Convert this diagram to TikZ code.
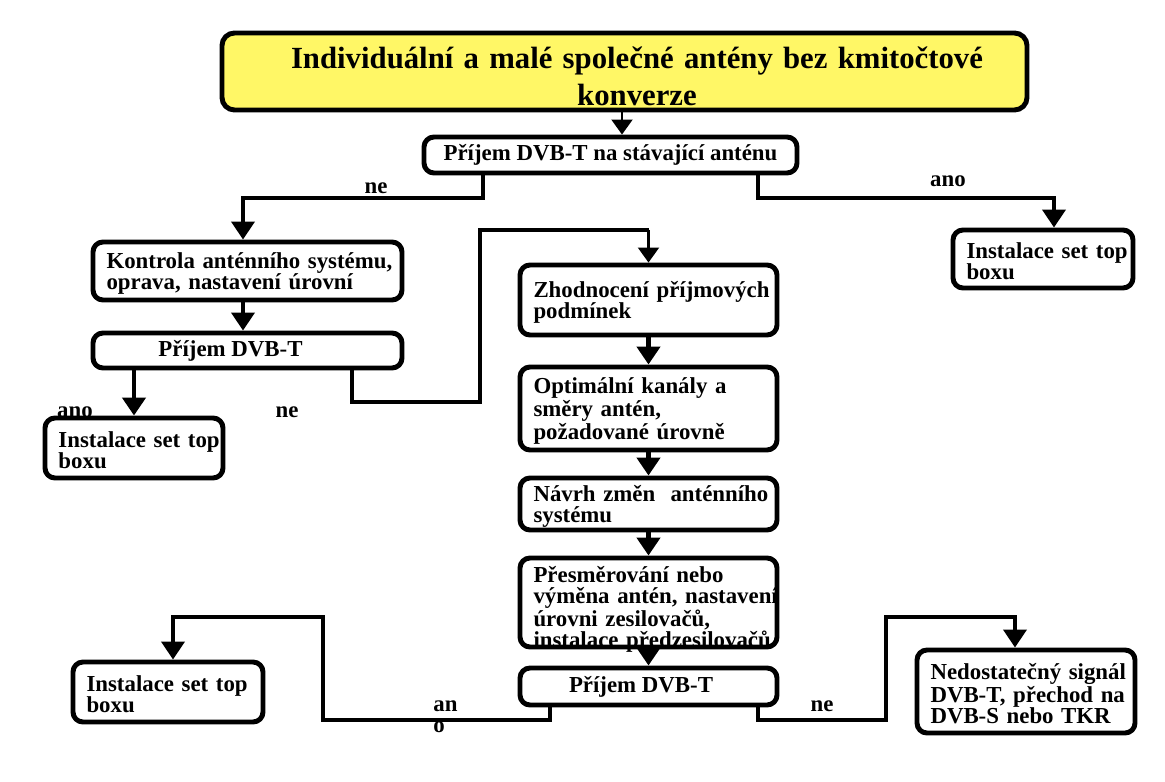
\documentclass[tikz,border=0pt]{standalone}
\usepackage{fontspec}
\setmainfont{Liberation Serif}
\usetikzlibrary{arrows.meta}

\newcommand{\boxfont}{\bfseries\fontsize{13}{11.9}\selectfont}
\newcommand{\headfont}{\bfseries\fontsize{17.5}{21}\selectfont}

\tikzset{
    procbox/.style={draw=black, line width=2.8pt, rounded corners=0.2cm, fill=white,
        align=left, text width=#1, text height=12pt, inner xsep=0.27cm, inner ysep=0pt, font=\boxfont,
        execute at begin node={\rightskip=0pt plus 1fil minus 3cm}},
    recvbox/.style={draw=black, line width=2.8pt, rounded corners=0.2cm, fill=white,
        align=center, minimum width=#1, inner sep=0pt, font=\boxfont},
    headbox/.style={draw=black, line width=2.8pt, rounded corners=0.25cm, fill=yellow!60,
        align=center, text width=15.6cm, minimum width=16.1cm, minimum height=1.54cm,
        text height=18pt, inner sep=0pt, font=\headfont},
    route/.style={line width=2.3pt},
    link/.style={line width=2.3pt, -{Triangle[width=0.46cm,length=0.36cm]}},
    thinlink/.style={line width=1.2pt, -{Triangle[width=0.42cm,length=0.3cm]}},
    tag/.style={font=\boxfont, inner sep=0pt},
}

\begin{document}
\begin{tikzpicture}[scale=0.2]
    \useasboundingbox (0,0) rectangle (116.5,-78.2);

    % boxes
    \node [headbox] (head) at (62.45,-7.15) {\hspace*{0.5cm}Individuální a malé společné antény bez kmitočtové\\\hspace*{0.5cm}konverze};
    \node [recvbox=7.46cm, minimum height=0.72cm] (recvA) at (61.05,-15.5) {Příjem DVB-T na stávající anténu};
    \node [procbox=5.64cm, minimum height=1.16cm] (check) at (24.75,-27.1) {Kontrola anténního systému,\\oprava, nastavení úrovní};
    \node [recvbox=6.18cm, minimum height=0.7cm] (recvB) at (24.75,-35.05) {Příjem DVB-T\hspace*{0.68cm}};
    \node [procbox=3.02cm, minimum height=1.2cm] (stbA) at (13.4,-44.8) {Instalace set top\\boxu};
    \node [procbox=3.06cm, minimum height=1.16cm] (stbB) at (104.3,-25.9) {Instalace set top\\boxu};
    \node [procbox=4.6cm, minimum height=1.4cm] (assess) at (64.85,-30.0) {Zhodnocení příjmových\\podmínek};
    \node [procbox=4.6cm, minimum height=1.66cm] (optim) at (64.85,-40.85) {Optimální kanály a\\směry antén,\\požadované úrovně};
    \node [procbox=4.6cm, minimum height=1.04cm] (design) at (64.85,-50.4) {Návrh změn~ anténního\\systému};
    \node [procbox=4.6cm, minimum height=1.78cm, text depth=35pt] (redirect) at (64.85,-60.25) {Přesměrování nebo\\výměna antén, nastavení\\úrovni zesilovačů,\\instalace předzesilovačů};
    \node [recvbox=5.14cm, minimum height=0.74cm] (recvC) at (64.85,-68.65) {Příjem DVB-T\hspace*{0.3cm}};
    \node [procbox=3.26cm, minimum height=1.2cm] (stbC) at (16.8,-69.2) {Instalace set top\\boxu};
    \node [procbox=3.82cm, minimum height=1.66cm] (weak) at (102.6,-69.15) {Nedostatečný signál\\DVB-T, přechod na\\DVB-S nebo TKR};

    % bends of the connectors
    \coordinate (t1) at (62.2,-12);
    \coordinate (c1) at (48.3,-19.8);
    \coordinate (c2) at (24.3,-19.8);
    \coordinate (a1) at (75.8,-19.8);
    \coordinate (a2) at (105.4,-19.8);
    \coordinate (d1) at (35.2,-40.2);
    \coordinate (d2) at (48.0,-40.2);
    \coordinate (d3) at (48.0,-23.0);
    \coordinate (d4) at (64.85,-23.0);
    \coordinate (e1) at (55.0,-72.0);
    \coordinate (e2) at (32.3,-72.0);
    \coordinate (e3) at (32.3,-61.7);
    \coordinate (e4) at (17.3,-61.7);
    \coordinate (f1) at (75.8,-72.0);
    \coordinate (f2) at (88.6,-72.0);
    \coordinate (f3) at (88.6,-61.7);
    \coordinate (f4) at (101.5,-61.7);

    % connectors
    \draw [thinlink] (head.south -| t1) -- (recvA.north -| t1);
    \draw [link] (recvA.south -| c1) -- (c1) -- (c2) -- (check.north -| c2);
    \draw [link] (recvA.south -| a1) -- (a1) -- (a2) -- (stbB.north -| a2);
    \draw [link] (check.south -| c2) -- (recvB.north -| c2);
    \draw [link, line width=2.8pt] (recvB.south -| stbA.north) -- (stbA.north);
    \draw [route] (recvB.south -| d1) -- (d1) -- (d2) -- (d3) -- (d4);
    \draw [thinlink] (d4) -- (assess.north);
    \draw [link, line width=2.8pt] (assess.south) -- (optim.north);
    \draw [link, line width=2.8pt] (optim.south) -- (design.north);
    \draw [link, line width=2.8pt] (design.south) -- (redirect.north);
    \draw [link, line width=2.8pt] (redirect.south) -- (recvC.north);
    \draw [link] (recvC.south -| e1) -- (e1) -- (e2) -- (e3) -- (e4) -- (stbC.north -| e4);
    \draw [link] (recvC.south -| f1) -- (f1) -- (f2) -- (f3) -- (f4) -- (weak.north -| f4);

    % answers
    \node [tag] (ne0) at (37.6,-18.8) {ne};
    \node [tag] (ano0) at (94.8,-18.1) {ano};
    \node [tag] (ano1) at (7.5,-41.2) {ano};
    \node [tag] (ne1) at (28.7,-41.2) {ne};
    \node [tag, align=left, anchor=west] (ano2) at (43.3,-71.7) {an\\o};
    \node [tag] (ne2) at (82.2,-70.6) {ne};
\end{tikzpicture}
\end{document}
